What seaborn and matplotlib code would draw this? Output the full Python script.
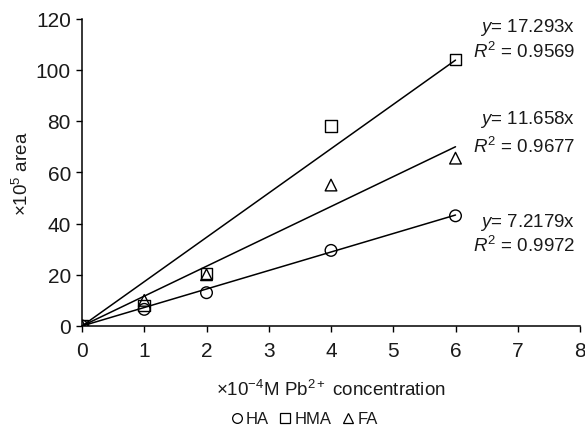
import numpy as np
import pandas as pd
import matplotlib
matplotlib.use("Agg")
import matplotlib.pyplot as plt
from matplotlib.lines import Line2D
import seaborn as sns

# data
conc = [0, 1, 2, 4, 6]
ha = [0, 6.5, 13, 29.5, 43]
hma = [0, 8, 20.5, 78, 104]
fa = [0, 10, 20, 55, 65.5]
slopes = {"HA": 7.2179, "HMA": 17.293, "FA": 11.658}
r2 = {"HA": 0.9972, "HMA": 0.9569, "FA": 0.9677}
markers = {"HA": "o", "HMA": "s", "FA": "^"}

sns.set_style("ticks")
plt.rcParams['font.family'] = ['Liberation Sans', 'DejaVu Sans']
plt.rcParams['mathtext.fontset'] = 'custom'
plt.rcParams['mathtext.rm'] = 'Liberation Sans'
plt.rcParams['mathtext.it'] = 'Liberation Sans:italic'
txt_col = "#1a1a1a"

df = pd.DataFrame({"conc": conc * 3,
                   "area": ha + hma + fa,
                   "series": ["HA"] * 5 + ["HMA"] * 5 + ["FA"] * 5})

fig = plt.figure(figsize=(5.85, 4.27), dpi=100)
# axes: x 82..580 px, y 19.5..327 px
ax = fig.add_axes([82 / 585, 1 - 327 / 427, 498 / 585, 307.5 / 427])

# fitted lines through origin
xfit = np.array([0, 6])
for name in ["HMA", "FA", "HA"]:
    sns.lineplot(x=xfit, y=slopes[name] * xfit, ax=ax, color="black", lw=1.1, zorder=2)

for name in ["HA", "HMA", "FA"]:
    sub = df[df.series == name]
    sns.scatterplot(data=sub, x="conc", y="area", ax=ax, marker=markers[name],
                    s=70, facecolor="none", edgecolor="black", linewidth=1.0, zorder=3)

ax.set_xlim(0, 8)
ax.set_ylim(0, 120)
ax.set_xticks(range(0, 9))
ax.set_yticks(range(0, 121, 20))
ax.tick_params(labelsize=15, length=4, width=1, colors="black", labelcolor=txt_col)
ax.tick_params(axis="x", pad=7)
ax.tick_params(axis="y", pad=4)
for s in ["left", "bottom"]:
    ax.spines[s].set_linewidth(1.1)
    ax.spines[s].set_color("black")
sns.despine(ax=ax)
ax.set_xlabel(r"×10$^{-4}$M Pb$^{2+}$ concentration", fontsize=13.5, color=txt_col)
ax.set_ylabel(r"×10$^{5}$ area", fontsize=13.5, color=txt_col)
ax.xaxis.set_label_coords(0.5, 1 - (390 - 19.5) / 307.5)
ax.yaxis.set_label_coords((22 - 82) / 498, 0.5)
ax.xaxis.label.set_va("center")
ax.yaxis.label.set_va("center")

# regression labels
lab_pos = {"HMA": (27, 52), "FA": (120, 147), "HA": (223, 246)}
for name, (y1, y2) in lab_pos.items():
    fig.text(575 / 585, 1 - y1 / 427, rf"$y$= {slopes[name]}x", ha="right", va="center",
             fontsize=13.5, color=txt_col)
    fig.text(575 / 585, 1 - y2 / 427, rf"$R^2$ = {r2[name]:.4f}", ha="right", va="center",
             fontsize=13.5, color=txt_col)

handles = [Line2D([], [], marker=markers[n], ls="none", mfc="none", mec="black", ms=7, mew=0.9, label=n)
           for n in ["HA", "HMA", "FA"]]
fig.legend(handles=handles, loc="center", bbox_to_anchor=(303 / 585, 1 - 420 / 427), ncol=3,
           frameon=False, fontsize=12, handletextpad=0.05, columnspacing=0.5, handlelength=1.0,
           labelcolor=txt_col)

fig.savefig("out.png", dpi=100)
